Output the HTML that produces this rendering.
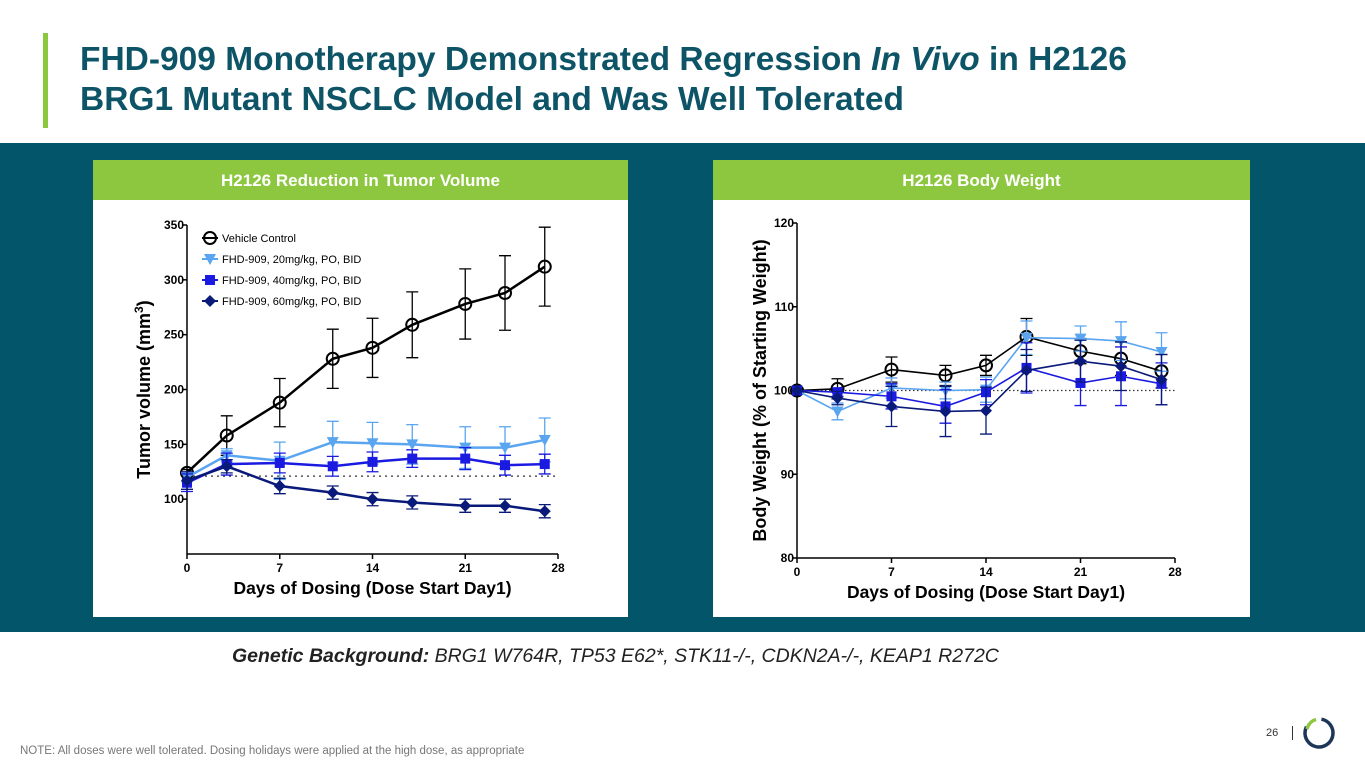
<!DOCTYPE html>
<html><head><meta charset="utf-8"><style>
*{margin:0;padding:0;box-sizing:border-box}
body{width:1365px;height:768px;background:#fff;font-family:"Liberation Sans",sans-serif;position:relative;overflow:hidden}
.abs{position:absolute}
</style></head><body>
<div class="abs" style="left:43px;top:33px;width:5px;height:95px;background:#8dc63f"></div>
<div class="abs" style="left:80px;top:40px;font-size:33.5px;font-weight:bold;color:#0e5467;line-height:40px">FHD-909 Monotherapy Demonstrated Regression <i>In Vivo</i> in H2126<br>BRG1 Mutant NSCLC Model and Was Well Tolerated</div>
<div class="abs" style="left:0;top:143px;width:1365px;height:489px;background:#03566a"></div>
<div class="abs" style="left:93px;top:160px;width:535px;height:457px;background:#fff">
 <div style="height:40px;background:#8dc63f;color:#fff;font-weight:bold;font-size:17px;text-align:center;line-height:42px">H2126 Reduction in Tumor Volume</div>
</div>
<div class="abs" style="left:713px;top:160px;width:537px;height:457px;background:#fff">
 <div style="height:40px;background:#8dc63f;color:#fff;font-weight:bold;font-size:17px;text-align:center;line-height:42px">H2126 Body Weight</div>
</div>
<svg class="abs" style="left:0;top:0" width="1365" height="768" id="charts"></svg>
<div class="abs" style="left:232px;top:645px;font-size:19.5px;font-style:italic;color:#222;white-space:nowrap"><b>Genetic Background:</b> BRG1 W764R, TP53 E62*, STK11-/-, CDKN2A-/-, KEAP1 R272C</div>
<div class="abs" style="left:20px;top:745px;font-size:11.5px;color:#777;white-space:nowrap">NOTE:  All doses were well tolerated. Dosing holidays were applied at the high dose, as appropriate</div>
<div class="abs" style="left:1266px;top:727px;font-size:11px;color:#333">26</div>
<div class="abs" style="left:1292px;top:726px;width:1px;height:14px;background:#333"></div>
<svg class="abs" style="left:1302px;top:716px" width="34" height="34">
<circle cx="17" cy="17" r="14" fill="none" stroke="#1d3557" stroke-width="3.5" stroke-dasharray="70 18" transform="rotate(-80 17 17)"/>
<path d="M5 13 A13 13 0 0 1 14 3.5" fill="none" stroke="#8dc63f" stroke-width="3.5"/>
</svg>
<script>
const days=[0,3,7,11,14,17,21,24,27];
const tvVeh=[124,158,188,228,238,259,278,288,312];
const tvVehErr=[3,18,22,27,27,30,32,34,36];
const tv20=[120,140,135,152,151,150,147,147,154];
const tv20Err=[4,6,17,19,19,18,19,19,20];
const tv40=[115,132,133,130,134,137,137,131,132];
const tv40Err=[8,10,9,9,9,8,10,9,9];
const tv60=[117,130,112,106,100,97,94,94,89];
const tv60Err=[8,6,7,6,6,6,6,6,6];
const bwVeh=[100,100.2,102.5,101.8,103,106.4,104.7,103.8,102.3];
const bwVehErr=[0,1.2,1.5,1.2,1.2,2.2,1.5,2,2];
const bw20=[100,97.5,100.3,100,100.1,106.3,106.2,105.9,104.6];
const bw20Err=[0,1,1.2,1,1.5,2,1.5,2.3,2.3];
const bw40=[100,99.8,99.3,98.1,99.8,102.7,100.9,101.7,100.8];
const bw40Err=[0,0.5,1.5,2,1.5,3,2.7,3.5,2.5];
const bw60=[100,99.1,98.1,97.5,97.6,102.4,103.5,102.9,101.3];
const bw60Err=[0,0.8,2.4,3,2.8,2.5,2.5,2.9,3];
const xTicks=[0,7,14,21,28];
const tvTicks=[100,150,200,250,300,350];
const bwTicks=[80,90,100,110,120];
const legendLabels=["Vehicle Control","FHD-909, 20mg/kg, PO, BID","FHD-909, 40mg/kg, PO, BID","FHD-909, 60mg/kg, PO, BID"];
const colors=["#000","#5aa5f0","#1a1ae0","#0a1a7a"];
const NS="http://www.w3.org/2000/svg";
const svg=document.getElementById('charts');
function mk(t,a,p){const e=document.createElementNS(NS,t);for(const k in a)e.setAttribute(k,a[k]);(p||svg).appendChild(e);return e;}
function marker(kind,x,y,c,g){
 if(kind===0)return mk('circle',{cx:x,cy:y,r:6,fill:'none',stroke:c,'stroke-width':2},g);
 if(kind===1)return mk('polygon',{points:`${x-6},${y-5} ${x+6},${y-5} ${x},${y+6}`,fill:c},g);
 if(kind===2)return mk('rect',{x:x-5,y:y-5,width:10,height:10,fill:c},g);
 return mk('polygon',{points:`${x},${y-6} ${x+6},${y} ${x},${y+6} ${x-6},${y}`,fill:c},g);
}
function chart(o){
 const X=d=>o.x0+(o.x1-o.x0)*d/28, Y=v=>o.y1-(o.y1-o.y0)*(v-o.vmin)/(o.vmax-o.vmin);
 const g=mk('g',{});
 mk('line',{x1:o.x0,y1:Y(o.vmin),x2:o.x0,y2:Y(o.vmax),stroke:'#000','stroke-width':1.5},g);
 mk('line',{x1:o.x0,y1:o.y1,x2:o.x1,y2:o.y1,stroke:'#000','stroke-width':1.5},g);
 o.yt.forEach(v=>{mk('line',{x1:o.x0-5,y1:Y(v),x2:o.x0,y2:Y(v),stroke:'#000','stroke-width':1.5},g);
  const t=mk('text',{x:o.x0-3,y:Y(v)+4,'text-anchor':'end','font-size':12,'font-weight':'bold'},g);t.textContent=v;});
 xTicks.forEach(d=>{mk('line',{x1:X(d),y1:o.y1,x2:X(d),y2:o.y1+5,stroke:'#000','stroke-width':1.5},g);
  const t=mk('text',{x:X(d),y:o.y1+18,'text-anchor':'middle','font-size':12,'font-weight':'bold'},g);t.textContent=d;});
 const xt=mk('text',{x:(o.x0+o.x1)/2,y:o.y1+40,'text-anchor':'middle','font-size':17.5,'font-weight':'bold'},g);xt.textContent="Days of Dosing (Dose Start Day1)";
 const yt=mk('text',{x:0,y:0,'text-anchor':'middle','font-size':18,'font-weight':'bold',transform:`translate(${o.ytx},${(o.y0+o.y1)/2}) rotate(-90)`},g);yt.innerHTML=o.ytitle;
 mk('line',{x1:o.x0,y1:Y(o.base),x2:o.x1,y2:Y(o.base),stroke:'#333','stroke-width':1.2,'stroke-dasharray':o.dash},g);
 o.series.forEach((s,i)=>{
  const sg=mk('g',{},g);
  s.v.forEach((v,j)=>{const e=s.e[j];if(!e)return;const x=X(days[j]);
   mk('path',{d:`M${x},${Y(v-e)}V${Y(v+e)}M${x-6},${Y(v+e)}H${x+6}M${x-6},${Y(v-e)}H${x+6}`,stroke:colors[i],'stroke-width':1.3,fill:'none'},sg);});
  mk('polyline',{points:s.v.map((v,j)=>X(days[j])+','+Y(v)).join(' '),fill:'none',stroke:colors[i],'stroke-width':o.lw},sg);
  s.v.forEach((v,j)=>marker(i,X(days[j]),Y(v),colors[i],sg));
 });
 return g;
}
chart({name:'tumor-volume-chart',x0:187,x1:558,y0:225,y1:554,vmin:50,vmax:350,yt:tvTicks,ytx:150,ytitle:'Tumor volume (mm<tspan dy="-7" font-size="12">3</tspan><tspan dy="7">)</tspan>',base:121,dash:'2 4',lw:2.5,
 series:[{v:tvVeh,e:tvVehErr},{v:tv20,e:tv20Err},{v:tv40,e:tv40Err},{v:tv60,e:tv60Err}]});
chart({name:'body-weight-chart',x0:797,x1:1175,y0:223,y1:558,vmin:80,vmax:120,yt:bwTicks,ytx:766,ytitle:'Body Weight (% of Starting Weight)',base:100,dash:'1.5 2.5',lw:1.6,
 series:[{v:bwVeh,e:bwVehErr},{v:bw20,e:bw20Err},{v:bw40,e:bw40Err},{v:bw60,e:bw60Err}]});
const lg=mk('g',{});
legendLabels.forEach((l,i)=>{const y=238+21*i;const e=mk('g',{},lg);
 
 mk('line',{x1:202,y1:y,x2:218,y2:y,stroke:colors[i],'stroke-width':2},e);marker(i,210,y,colors[i],e);
 const t=mk('text',{x:222,y:y+4,'font-size':11},e);t.textContent=l;});
</script>
</body></html>
